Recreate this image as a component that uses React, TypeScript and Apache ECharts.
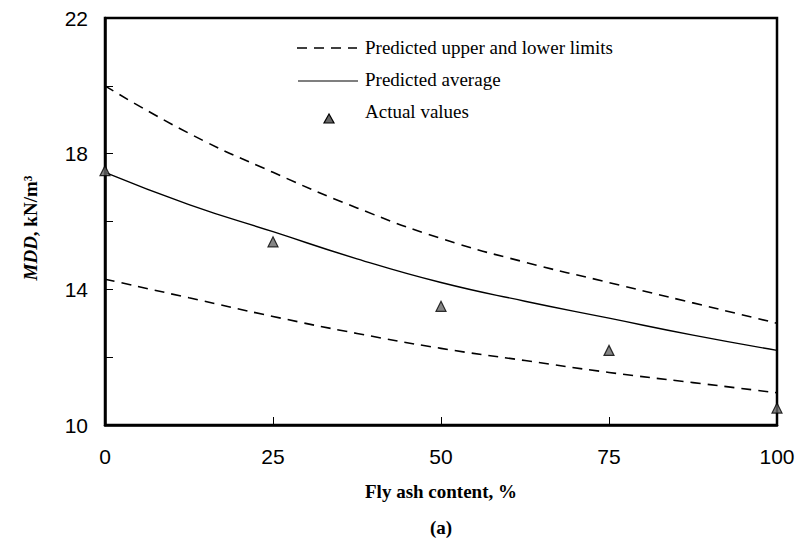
import React, { useEffect, useRef } from "react";
import * as echarts from "echarts";

const flyAsh = [0, 12.5, 25, 37.5, 50, 62.5, 75, 87.5, 100];
const upperLimit = [20.0, 18.6, 17.45, 16.4, 15.5, 14.8, 14.2, 13.6, 13.0];
const average = [17.45, 16.5, 15.7, 14.9, 14.2, 13.65, 13.15, 12.65, 12.2];
const lowerLimit = [14.3, 13.75, 13.2, 12.7, 12.26, 11.9, 11.55, 11.25, 10.95];
const actualX = [0, 25, 50, 75, 100];
const actualY = [17.5, 15.4, 13.5, 12.2, 10.5];

const legendLabels = ["Predicted upper and lower limits", "Predicted average", "Actual values"];

const SERIF = "'Liberation Serif', 'DejaVu Serif', serif";
const SANS = "'Liberation Sans', Arial, sans-serif";

export default function App() {
  const ref = useRef<HTMLDivElement>(null);
  useEffect(() => {
    if (!ref.current) return;
    const chart = echarts.init(ref.current, undefined, { renderer: "svg" });
    const pair = (xs: number[], ys: number[]) => xs.map((x, i) => [x, ys[i]]);
    chart.setOption({
      animation: false,
      backgroundColor: "#fff",
      grid: {
        left: 105,
        right: 34,
        top: 18,
        bottom: 114,
        show: true,
        borderColor: "#000",
        borderWidth: 2.5,
        backgroundColor: "transparent",
      },
      xAxis: {
        type: "value",
        min: 0,
        max: 100,
        interval: 25,
        name: "Fly ash content, %",
        nameLocation: "middle",
        nameGap: 57,
        nameTextStyle: { fontFamily: SERIF, fontWeight: "bold", fontSize: 19, color: "#000" },
        axisLine: { show: true, lineStyle: { color: "#000", width: 2.5 } },
        axisTick: { show: true, inside: true, length: 8, lineStyle: { color: "#000", width: 1 } },
        axisLabel: { fontFamily: SANS, fontSize: 21, color: "#000", margin: 21 },
        splitLine: { show: false },
      },
      yAxis: {
        type: "value",
        min: 10,
        max: 22,
        interval: 2,
        axisLine: { show: true, lineStyle: { color: "#000", width: 2.5 } },
        axisTick: { show: true, inside: true, length: 8, lineStyle: { color: "#000", width: 1 } },
        axisLabel: {
          fontFamily: SANS,
          fontSize: 21,
          color: "#000",
          margin: 17,
          formatter: (v: number) => ((v - 10) % 4 === 0 ? String(v) : ""),
        },
        splitLine: { show: false },
      },
      series: [
        {
          name: "upper",
          type: "line",
          data: pair(flyAsh, upperLimit),
          smooth: true,
          showSymbol: false,
          symbol: "none",
          lineStyle: { color: "#000", width: 1.6, type: [10, 7] },
        },
        {
          name: "average",
          type: "line",
          data: pair(flyAsh, average),
          smooth: true,
          showSymbol: false,
          symbol: "none",
          lineStyle: { color: "#000", width: 1.4 },
        },
        {
          name: "lower",
          type: "line",
          data: pair(flyAsh, lowerLimit),
          smooth: true,
          showSymbol: false,
          symbol: "none",
          lineStyle: { color: "#000", width: 1.6, type: [10, 7] },
        },
        {
          name: "actual",
          type: "scatter",
          data: pair(actualX, actualY),
          symbol: "triangle",
          symbolSize: 10,
          clip: false,
          itemStyle: { color: "#666", borderColor: "#000", borderWidth: 1.2 },
          z: 5,
        },
      ],
      graphic: [
        {
          type: "text",
          x: 30,
          y: 228,
          rotation: Math.PI / 2,
          style: {
            text: "{i|MDD}{b|, kN/m³}",
            align: "center",
            verticalAlign: "middle",
            rich: {
              i: { fontFamily: SERIF, fontWeight: "bold", fontStyle: "italic", fontSize: 19, fill: "#000" },
              b: { fontFamily: SERIF, fontWeight: "bold", fontSize: 19, fill: "#000" },
            },
          },
        },
        { type: "line", shape: { x1: 297, y1: 48, x2: 357, y2: 48 }, style: { stroke: "#000", lineWidth: 1.5, lineDash: [10, 7] } },
        { type: "text", x: 365, y: 47, style: { text: legendLabels[0], fontFamily: SERIF, fontSize: 19, fill: "#000", verticalAlign: "middle" } },
        { type: "line", shape: { x1: 298, y1: 81, x2: 358, y2: 81 }, style: { stroke: "#000", lineWidth: 1.2 } },
        { type: "text", x: 365, y: 79, style: { text: legendLabels[1], fontFamily: SERIF, fontSize: 19, fill: "#000", verticalAlign: "middle" } },
        { type: "polygon", shape: { points: [[329, 114], [324, 123], [334, 123]] }, style: { fill: "#666", stroke: "#000", lineWidth: 1.2 } },
        { type: "text", x: 365, y: 111, style: { text: legendLabels[2], fontFamily: SERIF, fontSize: 19, fill: "#000", verticalAlign: "middle" } },
        { type: "text", x: 441, y: 527, style: { text: "(a)", fontFamily: SERIF, fontWeight: "bold", fontSize: 19, fill: "#000", align: "center", verticalAlign: "middle" } },
      ],
    });
    return () => chart.dispose();
  }, []);
  return <div ref={ref} style={{ width: 811, height: 539, position: "absolute", left: 0, top: 0 }} />;
}
